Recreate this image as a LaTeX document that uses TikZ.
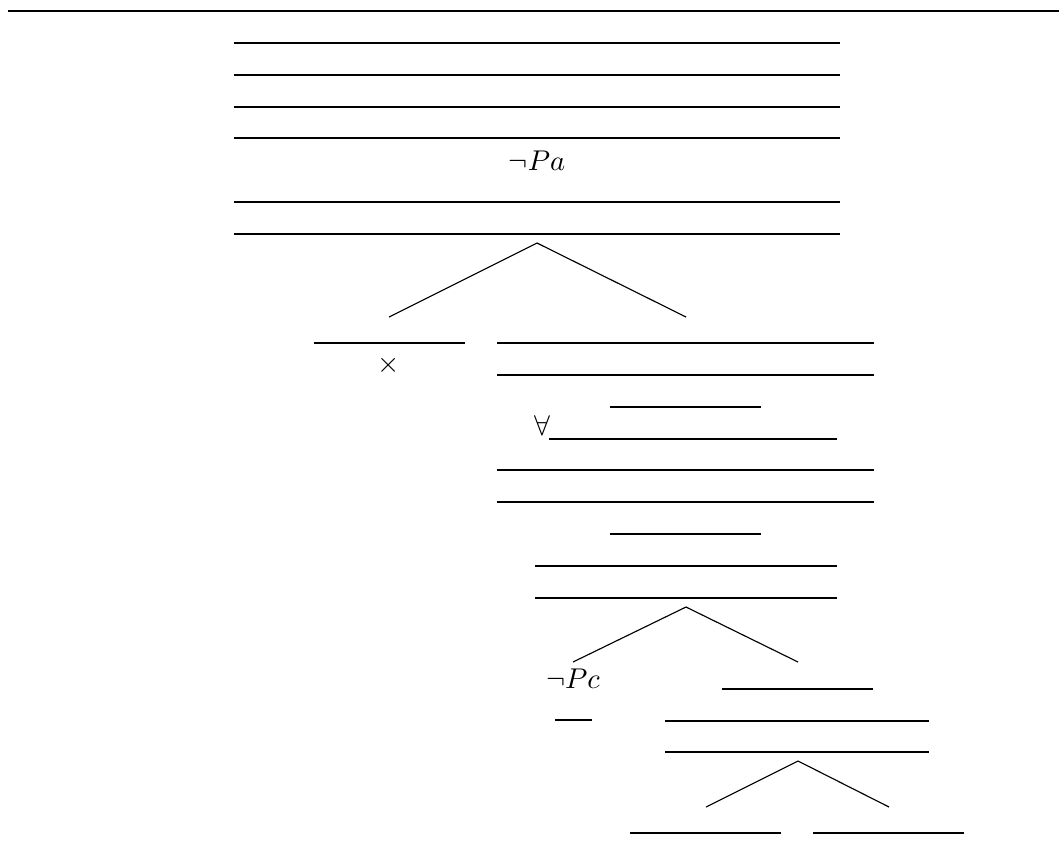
\documentclass[tikz,border=0pt]{standalone}
\usetikzlibrary{calc}

\begin{document}
\begin{tikzpicture} [x=.35pt, y=-.35pt]
\useasboundingbox (0,0) rectangle (1059,863);
\coordinate (O) at (0,0);
\draw (8,11) --(1059,11);
% trunk
\foreach \y in {43,75,107,138,202,234} {
 \draw (234,\y) --(840,\y);
}
\node[anchor=base, inner sep=0] (npa) at (537,170) {$\neg Pa$};
\coordinate (b1) at (537,243);
\coordinate (b1l) at (389,317);
\coordinate (b1r) at (686,317);
\draw (b1l) --(b1) --(b1r);
% left branch
\draw (314,343) --(465,343);
\node[inner sep=0] (cross) at (389,365) {$\times$};
% right branch
\foreach \y in {343,375,470,502} {
 \draw (497,\y) --(874,\y);
}
\foreach \y in {407,534} {
 \draw (610,\y) --(761,\y);
}
\node[anchor=base, inner sep=0] (all) at (542,435) {$\forall$};
\draw (549,439) --(837,439);
\foreach \y in {566,598} {
 \draw (535,\y) --(837,\y);
}
\coordinate (b2) at (686,607);
\coordinate (b2l) at (573,662);
\coordinate (b2r) at (798,662);
\draw (b2l) --(b2) --(b2r);
\node[anchor=base, inner sep=0] (npc) at (573,688) {$\neg Pc$};
\draw (555,720) --(592,720);
\draw (722,689) --(873,689);
\foreach \y in {721,752} {
 \draw (665,\y) --(929,\y);
}
\coordinate (b3) at (798,761);
\coordinate (b3l) at (706,807);
\coordinate (b3r) at (889,807);
\draw (b3l) --(b3) --(b3r);
\draw (630,833) --(781,833);
\draw (813,833) --(964,833);
\end{tikzpicture}
\end{document}
